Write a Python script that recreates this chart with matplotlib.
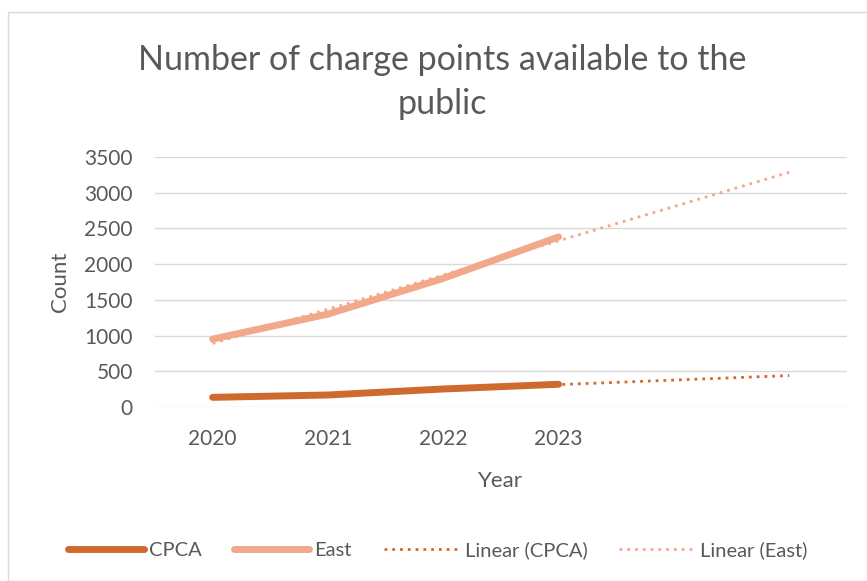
import matplotlib.pyplot as plt
import numpy as np
from matplotlib.patches import Rectangle

plt.rcParams['font.family'] = ['Lato', 'DejaVu Sans']

years = ['2020', '2021', '2022', '2023']
cpca = [135, 168, 252, 318]
east = [950, 1300, 1800, 2380]
forecast_periods = 2

c_cpca = '#d06a2c'
c_east = '#f2a88a'
text_c = '#595959'

fig = plt.figure(figsize=(8.67, 5.81), dpi=100)
ax = fig.add_axes([0.1788, 0.2995, 0.798, 0.4305])

x = np.arange(len(years))
ax.plot(x, cpca, color=c_cpca, lw=5, solid_capstyle='round', label='CPCA', zorder=3)
ax.plot(x, east, color=c_east, lw=5, solid_capstyle='round', label='East', zorder=3)

# linear trendlines, extended forward like Excel's forecast option
xt = np.linspace(0, len(years) - 1 + forecast_periods, 50)
for vals, col, name in [(cpca, c_cpca, 'Linear (CPCA)'), (east, c_east, 'Linear (East)')]:
    k, b = np.polyfit(x, vals, 1)
    ax.plot(xt, k * xt + b, color=col, lw=2, ls=(0, (1, 1.8)), label=name, zorder=2)

ax.set_xlim(-0.5, len(years) - 0.5 + forecast_periods)
ax.set_ylim(0, 3500)
ax.set_yticks(range(0, 3501, 500))
ax.set_xticks(x)
ax.set_xticklabels(years)
ax.grid(axis='y', color='#d9d9d9', lw=1)
ax.set_axisbelow(True)
for s in ax.spines.values():
    s.set_visible(False)
ax.tick_params(length=0, labelsize=15, colors=text_c, pad=16)

ax.set_xlabel('Year', fontsize=16, color=text_c, labelpad=16)
ax.set_ylabel('Count', fontsize=16, color=text_c, labelpad=10)

fig.text(0.51, 0.859, 'Number of charge points available to the\npublic',
         ha='center', va='center', fontsize=24.5, color=text_c, linespacing=1.46)

fig.legend(loc='center', bbox_to_anchor=(0.505, 0.053), ncol=4, frameon=False,
           fontsize=14.5, labelcolor=text_c, handlelength=3.75, handletextpad=0.25,
           columnspacing=1.6)

fig.patches.append(Rectangle((8 / 867, 0), 1, 1 - 12 / 581, transform=fig.transFigure,
                             fill=False, edgecolor='#d9d9d9', lw=1))

fig.savefig('out.png', dpi=100)
